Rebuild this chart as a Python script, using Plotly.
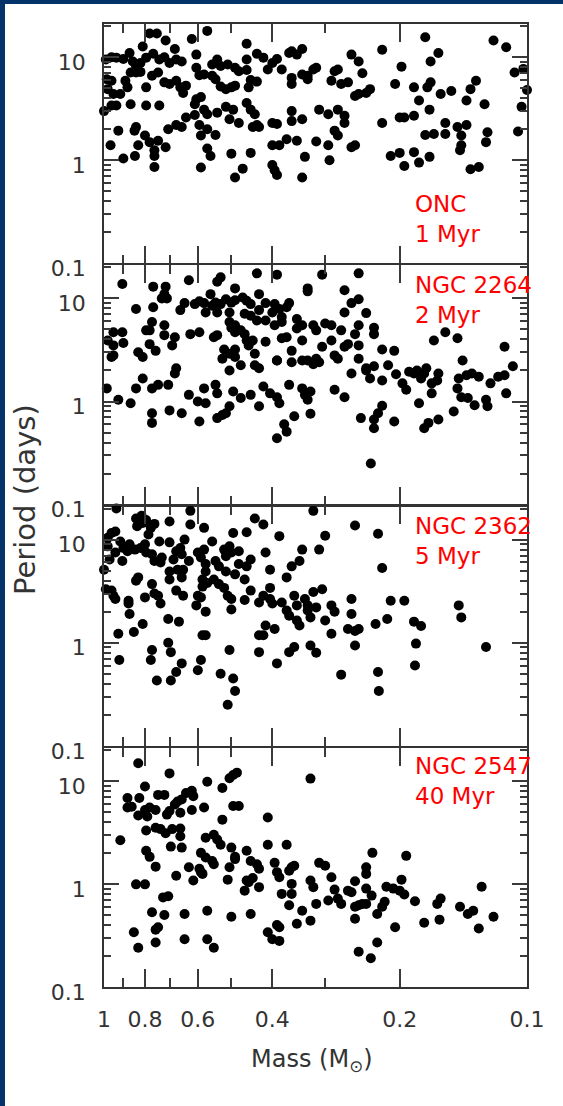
import plotly.graph_objects as go
from plotly.subplots import make_subplots

# ---------------- data (mass in solar masses, period in days) ----------------
onc_mass = [
    0.78, 0.75, 0.715, 0.68, 0.81, 0.62, 0.57, 0.46, 0.36, 0.34, 0.22, 0.174, 0.12, 0.112, 0.162, 0.169, 0.198, 0.107, 0.102, 0.10, 0.103, 0.105,
    0.99, 0.96, 0.935, 0.90, 0.87, 0.855, 0.84, 0.82, 0.795, 0.765,
    0.74, 0.72, 0.70, 0.675, 0.655, 0.605, 0.605, 0.555, 0.54, 0.53,
    0.51, 0.49, 0.48, 0.46, 0.46, 0.435, 0.42, 0.41, 0.40, 0.39,
    0.38, 0.365, 0.35, 0.34, 0.32, 0.315, 0.28, 0.26, 0.25, 0.245,
    0.985, 0.96, 0.98, 0.95, 0.915, 0.89, 0.88, 0.865, 0.84, 0.82,
    0.795, 0.77, 0.745, 0.72, 0.70, 0.675, 0.66, 0.65, 0.64, 0.595,
    0.58, 0.555, 0.545, 0.53, 0.515, 0.50, 0.49, 0.455, 0.45, 0.435,
    0.36, 0.36, 0.33, 0.33, 0.29, 0.285, 0.275, 0.265, 0.255, 0.25,
    0.24, 0.235, 0.205, 0.185, 0.172, 0.169, 0.16, 0.151, 0.139, 0.136,
    0.132,
    1.0, 0.96, 0.935, 0.865, 0.795, 0.74, 0.605, 0.59, 0.61, 0.58,
    0.57, 0.54, 0.515, 0.495, 0.505, 0.48, 0.46, 0.45, 0.44, 0.435,
    0.445, 0.43, 0.40, 0.39, 0.36, 0.36, 0.34, 0.31, 0.295, 0.28,
    0.27, 0.27, 0.285, 0.28, 0.22, 0.20, 0.195, 0.185, 0.18, 0.17,
    0.156, 0.146, 0.139, 0.126, 0.174, 0.166, 0.156, 0.143, 0.124, 0.125,
    0.143, 0.84, 0.847, 0.925, 0.675, 0.655, 0.64, 0.61, 0.595, 0.59,
    0.545, 0.57, 0.705,
    0.965, 0.90, 0.845, 0.83, 0.80, 0.78, 0.76, 0.76, 0.745, 0.715,
    0.76, 0.59, 0.57, 0.56, 0.50, 0.45, 0.49, 0.47, 0.40, 0.395,
    0.39, 0.40, 0.385, 0.37, 0.35, 0.34, 0.335, 0.315, 0.295, 0.293,
    0.26, 0.255, 0.21, 0.20, 0.195, 0.185, 0.18, 0.17, 0.144, 0.136,
    0.13,
]
onc_period = [
    17, 17, 14.5, 12, 12.7, 15, 18, 13.5, 11.4, 12, 11.8, 15.6, 14.5, 12.5, 11, 9.1, 8.1, 7.1, 7.7, 4.8, 3.3, 1.9,
    9.5, 10, 9.9, 9.6, 11, 9.1, 8.2, 8.8, 9.9, 10.8,
    9.5, 10, 8.8, 9.5, 9.1, 10.6, 7.9, 8.5, 9.5, 8.2,
    8.5, 7.9, 7.3, 7.5, 9.5, 10.8, 9.9, 7.6, 8.8, 9.6,
    7.6, 11, 10.6, 6.8, 7.6, 7.9, 7.6, 10.6, 9.1, 7,
    6.1, 5.9, 4.9, 4.4, 4.4, 5.9, 5.1, 7.1, 7.1, 7.2,
    5.1, 6.6, 7.1, 5.7, 5.5, 5.9, 5.1, 4.5, 5.3, 6.7,
    6.8, 6.6, 6.1, 5.2, 4.9, 5.1, 5.3, 5.1, 6, 5.8,
    6.3, 5.5, 6.1, 6.6, 5.9, 7.3, 5.5, 5.7, 4.2, 4.4,
    4.5, 4.9, 5.5, 5.1, 5.1, 5.7, 4.4, 4.7, 3.8, 4.9,
    5.9,
    3.0, 3.4, 3.4, 3.5, 3.4, 3.4, 3.9, 4.1, 3.5, 3.1,
    2.8, 2.9, 3.3, 3.1, 2.5, 2.3, 3.6, 3.1, 2.8, 2.2,
    2.1, 2.1, 2.3, 2.25, 3.0, 2.4, 2.5, 3.1, 2.8, 3.1,
    2.7, 2.3, 1.94, 1.74, 2.3, 2.6, 2.6, 2.7, 3.8, 3.1,
    2.3, 2.1, 2.2, 3.5, 1.76, 1.8, 1.8, 1.74, 1.87, 1.5,
    1.4, 2.1, 1.94, 1.94, 2.2, 2.1, 2.6, 2.75, 2.2, 1.74,
    1.76, 2.0, 2.0,
    1.4, 1.04, 1.1, 1.4, 1.74, 1.5, 1.25, 1.1, 1.55, 1.34,
    0.86, 0.85, 1.3, 1.1, 1.16, 1.18, 0.68, 0.83, 0.9, 0.8,
    0.72, 1.4, 1.4, 1.6, 1.55, 0.68, 1.08, 1.52, 1.4, 1.0,
    1.34, 1.4, 1.1, 1.18, 0.88, 1.2, 0.95, 1.08, 1.25, 0.82,
    0.86,
]

ngc2264_mass = [
    0.905, 0.63, 0.54, 0.53, 0.435, 0.39, 0.305, 0.25, 0.765, 0.715,
    0.72, 0.71, 0.73, 0.49, 0.43, 0.33, 0.33, 0.27, 0.26, 0.25,
    0.27, 0.24,
    0.84, 0.765, 0.66, 0.645, 0.61, 0.595, 0.58, 0.56, 0.555, 0.545,
    0.53, 0.515, 0.50, 0.49, 0.47, 0.46, 0.45, 0.43, 0.415, 0.395,
    0.385, 0.37, 0.365, 0.40, 0.505, 0.54, 0.575, 0.465, 0.45, 0.435,
    0.415, 0.38, 0.35, 0.395, 0.38, 0.35, 0.34, 0.32, 0.315, 0.30,
    0.29, 0.275, 0.255, 0.25, 0.23, 0.23, 0.50, 0.49, 0.49, 0.475,
    0.465, 0.505, 0.77, 0.78, 0.72, 0.795, 0.95, 0.905, 0.98, 0.95,
    0.95, 0.90, 0.625, 0.595, 0.55, 0.54, 0.68, 0.69, 0.72, 0.78,
    0.755, 0.83, 0.81, 0.52, 0.525, 0.505, 0.49, 0.49, 0.475, 0.46,
    0.455, 0.44, 0.44, 0.445, 0.415, 0.39, 0.38, 0.37, 0.36, 0.36,
    0.34, 0.34, 0.33, 0.32, 0.315, 0.31, 0.305, 0.29, 0.285, 0.28,
    0.27, 0.265, 0.26, 0.25, 0.25, 0.24, 0.235, 0.23, 0.22, 0.22,
    0.213, 0.206, 0.204, 0.197, 0.19, 0.185, 0.182, 0.178, 0.175, 0.173,
    0.168, 0.162, 0.163, 0.166, 0.156, 0.146, 0.142, 0.145, 0.139, 0.135,
    0.13, 0.122, 0.117, 0.113, 0.108, 0.113, 0.112, 0.146, 0.143, 0.138,
    0.133, 0.125, 0.124, 0.149, 0.162, 0.171, 0.175, 0.18, 0.168, 0.193,
    0.206, 0.22, 0.225, 0.23, 0.23, 0.247, 0.234, 0.24,
    0.985, 0.925, 0.865, 0.84, 0.81, 0.77, 0.77, 0.77, 0.745, 0.705,
    0.68, 0.675, 0.70, 0.655, 0.63, 0.60, 0.595, 0.58, 0.575, 0.545,
    0.54, 0.54, 0.525, 0.515, 0.505, 0.495, 0.475, 0.45, 0.43, 0.42,
    0.405, 0.39, 0.385, 0.39, 0.375, 0.37, 0.355, 0.365, 0.34, 0.335,
    0.33, 0.325, 0.325, 0.285, 0.27, 0.43, 0.505, 0.39, 0.96,
]
ngc2264_period = [
    13.8, 15, 14.5, 16, 17.5, 17, 17, 17.5, 13, 13,
    11, 10, 10, 12.5, 11, 12.5, 11.7, 12, 9, 9.8,
    7.3, 7.2,
    7.9, 8.2, 7.7, 9, 8.8, 9.4, 9, 11, 8.5, 9.1,
    8.8, 9.8, 9.1, 9.6, 10.2, 9.5, 8.8, 7.7, 9, 8.8,
    7.9, 8.2, 9, 7.3, 7.3, 7.3, 7.3, 7.1, 6.8, 6.1,
    6.1, 6.6, 6.3, 5.5, 5.9, 5.1, 5.5, 5.5, 4.9, 5.7,
    5.5, 4.9, 4.5, 5.5, 5.2, 4.5, 5.2, 5.5, 4.7, 4.9,
    4.5, 5.9, 5.9, 4.9, 5.5, 4.9, 4.7, 4.7, 3.9, 3.5,
    2.8, 3.7, 4.5, 4.7, 4.2, 4.4, 4.2, 3.5, 4.4, 3.6,
    3.1, 3.0, 2.7, 3.2, 2.6, 2.9, 3.2, 2.7, 2.25, 3.9,
    3.5, 2.9, 2.25, 3.9, 3.8, 2.5, 4.1, 4.2, 3.1, 2.4,
    3.9, 2.5, 2.5, 2.3, 2.6, 2.4, 3.4, 3.9, 2.8, 2.6,
    3.4, 3.6, 1.87, 3.5, 2.6, 2.1, 1.67, 2.2, 1.6, 3.2,
    2.25, 3.1, 1.84, 1.5, 1.94, 1.87, 2.0, 1.67, 1.87, 2.1,
    1.5, 1.87, 1.6, 3.9, 4.7, 4.1, 2.5, 1.67, 1.8, 1.87,
    1.74, 1.5, 1.74, 1.8, 2.2, 3.4, 1.2, 1.34, 1.1, 1.08,
    0.92, 1.04, 0.9, 0.8, 0.67, 0.62, 0.55, 0.96, 1.2, 1.3,
    0.64, 0.91, 0.77, 0.67, 0.55, 0.69, 0.25, 2.0,
    1.34, 1.04, 0.96, 1.34, 1.67, 0.77, 0.62, 1.34, 1.45, 1.45,
    1.87, 2.1, 0.82, 0.77, 1.16, 1.0, 0.64, 1.34, 0.96, 1.45,
    1.2, 0.69, 0.74, 0.77, 0.9, 1.25, 1.08, 1.16, 0.9, 1.4,
    1.2, 1.1, 0.96, 0.44, 0.6, 0.51, 0.72, 1.45, 1.34, 1.16,
    1.04, 1.25, 0.76, 1.3, 1.1, 2.1, 2.0, 2.5, 2.7,
]

ngc2362_mass = [
    0.935, 0.84, 0.815, 0.795, 0.81, 0.835, 0.775, 0.76, 0.785, 0.70,
    0.625, 0.625, 0.58, 0.495, 0.46, 0.44, 0.42, 0.385, 0.32, 0.30,
    0.255, 0.225, 0.98, 0.96, 0.94,
    0.98, 0.97, 1.0, 0.94, 0.915, 0.90, 0.905, 0.88, 0.87, 0.845,
    0.82, 0.80, 0.795, 0.77, 0.76, 0.74, 0.73, 0.735, 0.70, 0.675,
    0.66, 0.655, 0.645, 0.685, 0.67, 0.65, 0.63, 0.60, 0.59, 0.58,
    0.575, 0.555, 0.545, 0.535, 0.52, 0.515, 0.505, 0.50, 0.48, 0.48,
    0.46, 0.45, 0.515, 0.49, 0.465, 0.575, 0.585, 0.57, 0.55, 0.535,
    0.585, 0.60, 0.605, 0.59, 0.575, 0.52, 0.51, 0.50, 0.50, 0.465,
    0.45, 0.43, 0.42, 0.405, 0.405, 0.405, 0.415, 0.40, 0.38, 0.37,
    0.37, 0.365, 0.355, 0.36, 0.345, 0.34, 0.35, 0.35, 0.345, 0.335,
    0.33, 0.33, 0.325, 0.32, 0.315, 0.31, 0.305, 0.30, 0.29, 0.285,
    0.29, 0.265, 0.26, 0.26, 0.255, 0.25, 0.255, 0.275, 0.228, 0.225,
    0.224, 0.22, 0.214, 0.21, 0.195, 0.185, 0.178, 0.183, 0.184, 0.145,
    0.143, 0.125,
    0.925, 0.92, 0.87, 0.85, 0.81, 0.875, 0.875, 0.94, 0.99, 0.96,
    0.95, 0.84, 0.83, 0.80, 0.77, 0.76, 0.745, 0.735, 0.70, 0.70,
    0.675, 0.65, 0.655, 0.705, 0.665, 0.705, 0.695, 0.77, 0.775, 0.75,
    0.695, 0.675, 0.655, 0.60, 0.59, 0.585, 0.575, 0.53, 0.505, 0.495,
    0.49, 0.51, 0.43, 0.42, 0.415, 0.395, 0.43, 0.39, 0.365, 0.355,
    0.325, 0.315,
]
ngc2362_period = [
    20, 16, 17, 15.5, 14.5, 13.5, 13, 14.2, 11.2, 15,
    19, 14, 13, 11.6, 11.8, 16, 14, 10.8, 19, 10.9,
    13.7, 11.4, 10.4, 11.6, 12,
    8.6, 6.4, 5.1, 7.5, 9.6, 8.3, 6.2, 7.7, 9, 8,
    8.3, 9, 7.5, 7.2, 6.2, 9.6, 6.7, 6, 9.4, 7.7,
    8.3, 7.2, 10, 6.4, 5.1, 5.1, 6.2, 7.5, 6.7, 8,
    5.8, 9.6, 6.2, 5.5, 8, 6.9, 8.6, 7.5, 7.7, 5.8,
    5.5, 6.4, 4.9, 4.6, 4.1, 4.9, 4.1, 3.8, 4.1, 3.7,
    3.5, 2.85, 2.3, 2.75, 2.0, 3.4, 2.85, 2.65, 2.1, 2.6,
    3.2, 2.45, 2.85, 2.65, 3.4, 5.1, 7.5, 2.4, 2.45, 4.3,
    2.05, 1.83, 2.85, 5.5, 6.2, 8, 2.3, 1.64, 1.47, 2.65,
    2.3, 2.05, 1.76, 3.1, 2.2, 8, 3.3, 1.64, 2.3, 2.0,
    1.22, 1.36, 1.9, 2.65, 1.3, 1.36, 0.94, 0.49, 1.52, 0.52,
    0.34, 5.3, 1.7, 2.55, 2.55, 1.6, 1.45, 0.98, 0.6, 2.3,
    1.76, 0.91,
    1.22, 0.68, 1.9, 1.27, 1.52, 2.55, 2.4, 2.65, 3.3, 3.2,
    2.85, 4, 4.3, 2.75, 3.7, 3.0, 2.85, 2.4, 4.1, 4.9,
    3.2, 2.85, 4.3, 1.7, 1.6, 1.0, 0.81, 0.85, 0.68, 0.43,
    0.43, 0.52, 0.63, 0.54, 0.68, 1.18, 1.18, 0.5, 0.85, 0.45,
    0.34, 0.25, 1.18, 1.18, 1.47, 1.36, 0.81, 0.63, 0.81, 0.91,
    0.94, 0.8,
]

ngc2547_mass = [
    0.83, 0.70, 0.495, 0.485, 0.505, 0.57, 0.325, 0.80, 0.88, 0.825,
    0.88, 0.86, 0.83, 0.80, 0.79, 0.78, 0.755, 0.745, 0.72, 0.71,
    0.70, 0.68, 0.67, 0.66, 0.655, 0.64, 0.62, 0.615, 0.62, 0.58,
    0.525, 0.495, 0.48, 0.525, 0.41, 0.795, 0.755, 0.735, 0.715, 0.69,
    0.66, 0.66, 0.695, 0.655, 0.915, 0.795, 0.78, 0.755, 0.675, 0.63,
    0.615, 0.595, 0.59, 0.585, 0.59, 0.575, 0.575, 0.55, 0.54, 0.53,
    0.555, 0.55, 0.51, 0.505, 0.50, 0.49, 0.49, 0.46, 0.45, 0.435,
    0.43, 0.46, 0.465, 0.455, 0.445, 0.43, 0.41, 0.395, 0.39, 0.385,
    0.38, 0.37, 0.365, 0.36, 0.355, 0.36, 0.36, 0.365, 0.34, 0.325,
    0.32, 0.315, 0.325, 0.35, 0.31, 0.30, 0.29, 0.285, 0.28, 0.275,
    0.295, 0.265, 0.26, 0.255, 0.255, 0.255, 0.25, 0.25, 0.245, 0.24,
    0.24, 0.24, 0.24, 0.233, 0.232, 0.234, 0.226, 0.226, 0.22, 0.217,
    0.215, 0.207, 0.205, 0.20, 0.198, 0.195, 0.193, 0.184, 0.175, 0.163,
    0.161, 0.16, 0.144, 0.138, 0.134, 0.13, 0.128, 0.12,
    0.84, 0.80, 0.85, 0.83, 0.77, 0.755, 0.745, 0.755, 0.725, 0.705,
    0.72, 0.645, 0.645, 0.57, 0.57, 0.55, 0.50, 0.45, 0.41, 0.40,
    0.385, 0.39, 0.385,
]
ngc2547_period = [
    14.8, 11.8, 11.4, 12, 10.6, 9.8, 10.5, 8.8, 6.8, 6.8,
    5.5, 5.6, 4.6, 5.2, 4.5, 5.5, 5.2, 7.3, 7.3, 4.7,
    5.1, 5.9, 6.3, 4.9, 6.6, 7.6, 8, 7.1, 5.2, 5.5,
    8.5, 5.7, 5.7, 4.2, 4.4, 3.3, 3.5, 3.4, 3.1, 3.4,
    3.45, 2.9, 2.3, 2.25, 2.65, 2.1, 1.83, 1.47, 1.2, 1.45,
    1.08, 1.4, 1.3, 1.25, 2.0, 1.8, 2.8, 3.0, 2.7, 2.4,
    1.67, 1.55, 1.1, 1.45, 2.25, 1.74, 1.83, 2.1, 1.67, 1.55,
    1.4, 1.08, 0.86, 1.04, 1.14, 0.93, 2.4, 1.6, 1.3, 1.16,
    0.8, 2.4, 1.34, 1.45, 1.5, 1.0, 0.8, 0.62, 0.55, 1.08,
    0.93, 0.64, 0.44, 0.41, 1.6, 1.5, 1.16, 0.88, 0.72, 0.64,
    0.69, 0.86, 0.83, 1.06, 0.6, 0.46, 0.22, 0.62, 0.64, 0.9,
    0.64, 1.25, 1.45, 0.77, 2.0, 0.19, 0.51, 0.27, 0.6, 0.67,
    0.94, 0.9, 0.38, 0.86, 1.1, 0.79, 1.87, 0.68, 0.42, 0.64,
    0.45, 0.72, 0.6, 0.51, 0.55, 0.37, 0.94, 0.48,
    0.99, 0.99, 0.34, 0.24, 0.53, 0.36, 0.38, 0.27, 0.74, 0.76,
    0.5, 0.51, 0.29, 0.55, 0.29, 0.24, 0.48, 0.51, 0.34, 0.29,
    0.28, 0.4, 0.38,
]

cluster_names = ["ONC", "NGC 2264", "NGC 2362", "NGC 2547"]
cluster_ages = ["1 Myr", "2 Myr", "5 Myr", "40 Myr"]
masses = [onc_mass, ngc2264_mass, ngc2362_mass, ngc2547_mass]
periods = [onc_period, ngc2264_period, ngc2362_period, ngc2547_period]

mass_tickvals = [1, 0.8, 0.6, 0.4, 0.2, 0.1]
mass_ticktext = ["1", "0.8", "0.6", "0.4", "0.2", "0.1"]
mass_minor = [0.9, 0.7, 0.5, 0.3]
period_tickvals = [0.1, 1, 10]
period_ticktext = ["0.1", "1", "10"]
period_minor = [0.2, 0.3, 0.4, 0.5, 0.6, 0.7, 0.8, 0.9, 2, 3, 4, 5, 6, 7, 8, 9, 20]

for m, p in zip(masses, periods):
    assert len(m) == len(p), (len(m), len(p))

# ---------------- layout geometry ----------------
W, H = 563, 1106
ML, MR, MT, MB = 104, 36, 24, 119
PW, PH = W - ML - MR, H - MT - MB
NAVY = "#04336a"
AX = "#333333"
TICK = "#3a3a3a"
TXT = "#333333"
FONT = "DejaVu Sans"
LW = 1.8


def px_x(x):
    return (x - ML) / PW


def px_y(y):
    return (H - MB - y) / PH


fig = make_subplots(rows=4, cols=1, shared_xaxes=True,
                    vertical_spacing=LW / PH)

for i, (m, p) in enumerate(zip(masses, periods)):
    fig.add_trace(
        go.Scatter(x=m, y=p, mode="markers",
                   marker=dict(size=10, color="black", line=dict(width=0)),
                   cliponaxis=False, showlegend=False, hoverinfo="skip"),
        row=i + 1, col=1)

fig.update_xaxes(
    type="log", range=[0, -1], tickmode="array",
    tickvals=mass_tickvals, ticktext=mass_ticktext,
    ticks="inside", ticklen=18, tickwidth=2, tickcolor=TICK,
    minor=dict(tickmode="array", tickvals=mass_minor, ticks="inside",
               ticklen=9, tickwidth=2, tickcolor=TICK, showgrid=False),
    showline=True, linecolor=AX, linewidth=LW, mirror="ticks",
    showgrid=False, zeroline=False,
    tickfont=dict(family=FONT, size=22, color=TXT),
    ticklabelstandoff=12,
)
fig.update_yaxes(
    type="log", range=[-1, 1.322], tickmode="array",
    tickvals=period_tickvals, ticktext=period_ticktext,
    ticks="inside", ticklen=15, tickwidth=2, tickcolor=TICK,
    minor=dict(tickmode="array", tickvals=period_minor, ticks="inside",
               ticklen=7, tickwidth=2, tickcolor=TICK, showgrid=False),
    showline=True, linecolor=AX, linewidth=LW, mirror="ticks",
    showgrid=False, zeroline=False,
    tickfont=dict(family=FONT, size=22, color=TXT),
    ticklabelstandoff=12, ticklabelshift=5,
)

panel_h = PH / 4
annotations = []
for i, (name, age) in enumerate(zip(cluster_names, cluster_ages)):
    top = MT + i * panel_h
    yc = top + 195 if i == 0 else top + 35
    annotations.append(dict(
        text=name + "<br>" + age, x=px_x(413), y=px_y(yc),
        xref="paper", yref="paper", xanchor="left", yanchor="middle",
        align="left", showarrow=False,
        font=dict(family=FONT, size=23, color="#ff0000")))

annotations.append(dict(
    text="Period (days)", x=px_x(25), y=px_y(500), xref="paper", yref="paper",
    xanchor="center", yanchor="middle", textangle=-90, showarrow=False,
    font=dict(family=FONT, size=29, color=TXT)))
annotations.append(dict(
    text="Mass (M<sub>⊙</sub>)", x=px_x(312), y=px_y(1060), xref="paper",
    yref="paper", xanchor="center", yanchor="middle", showarrow=False,
    font=dict(family=FONT, size=24, color=TXT)))

shapes = [
    dict(type="rect", xref="paper", yref="paper", x0=px_x(0), x1=px_x(5),
         y0=px_y(H), y1=px_y(0), fillcolor=NAVY, line=dict(width=0), layer="below"),
    dict(type="rect", xref="paper", yref="paper", x0=px_x(0), x1=px_x(W),
         y0=px_y(4), y1=px_y(0), fillcolor=NAVY, line=dict(width=0), layer="below"),
]

fig.update_layout(
    width=W, height=H, margin=dict(l=ML, r=MR, t=MT, b=MB, pad=0),
    paper_bgcolor="white", plot_bgcolor="white",
    annotations=annotations, shapes=shapes, showlegend=False,
)

fig.write_html("out.html")
